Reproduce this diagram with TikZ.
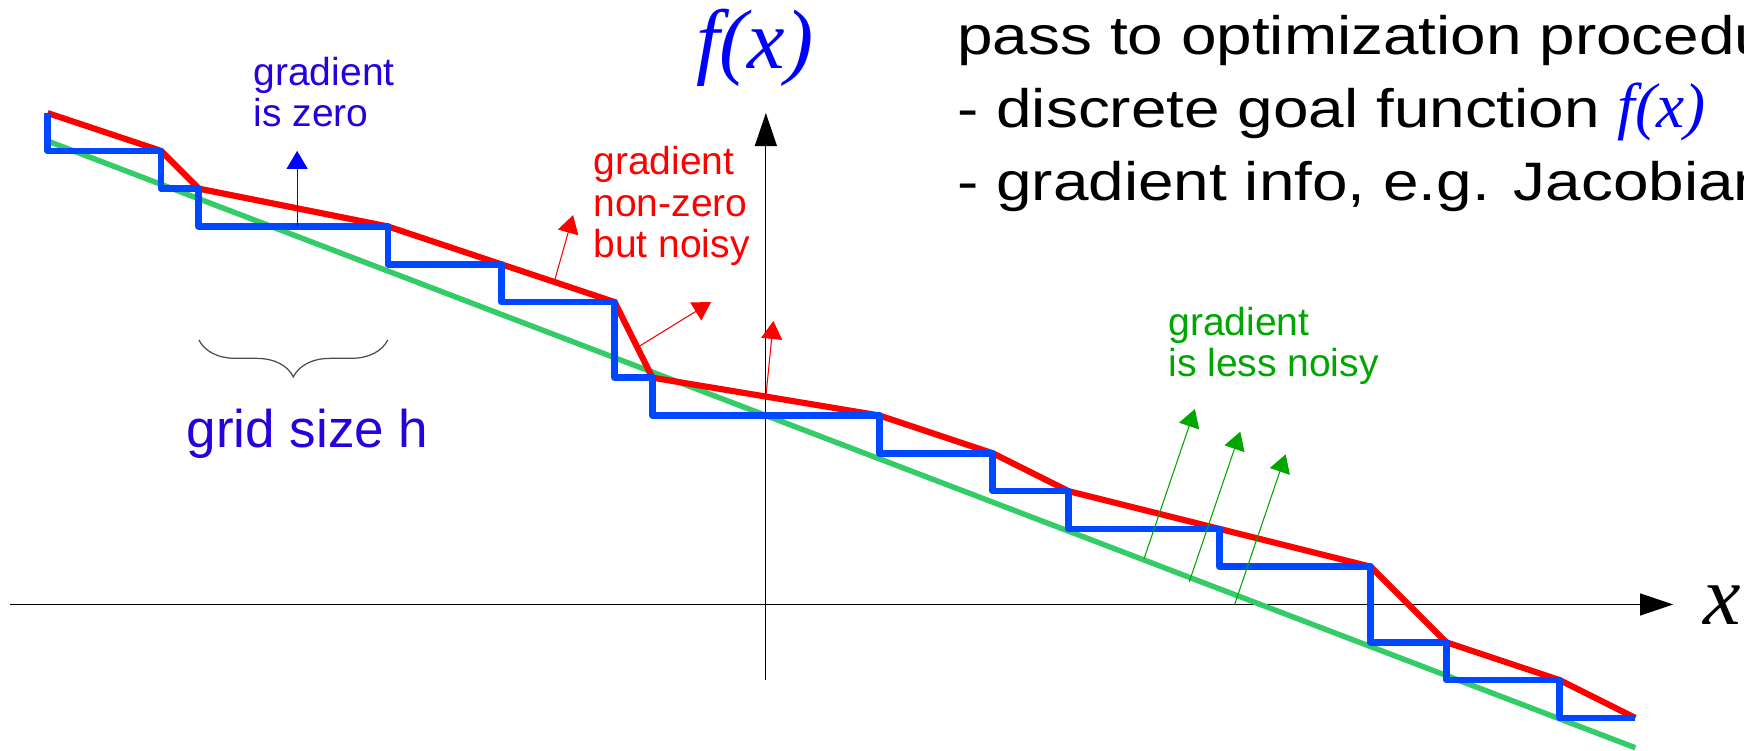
\documentclass[tikz,border=0pt]{standalone}
\usepackage{fontspec}
\setmainfont{Liberation Sans}
\newfontfamily\serifit{Liberation Serif}
\newfontfamily\widesans[FakeStretch=1.18]{Liberation Sans}
\usepackage{xcolor}
\usetikzlibrary{arrows.meta, decorations.pathreplacing}
\definecolor{stairblue}{RGB}{0,72,255}
\definecolor{noisyred}{RGB}{255,0,0}
\definecolor{trendgreen}{RGB}{51,204,102}
\definecolor{gradgreen}{RGB}{0,166,0}
\definecolor{labelblue}{RGB}{40,0,220}
\definecolor{fblue}{RGB}{0,0,255}
\tikzset{
  stairline/.style={line width=1.9pt, draw=stairblue, line join=round},
  noisyline/.style={line width=1.75pt, draw=noisyred},
  trendline/.style={line width=1.55pt, draw=trendgreen},
  axis/.style={line width=0.35pt, -{Triangle[length=0.33cm,width=0.22cm]}},
  gradarrow/.style={line width=0.3pt, -{Triangle[length=0.18cm,width=0.21cm]}},
  note/.style={font=\fontsize{11.1}{11.8}\selectfont, align=left,
               anchor=base west, inner sep=0pt},
  axislabel/.style={font=\serifit\itshape\fontsize{24}{28}\selectfont,
                    anchor=base, inner sep=0pt},
}

\begin{document}
\begin{tikzpicture}[x=0.378cm, y=0.378cm]
  \useasboundingbox (-20.26,-3.875) rectangle (25.875,15.99);
  % axes
  \draw[axis] (-20,0) -- (24,0);
  \draw[axis] (0,-2) -- (0,13);
  \node[axislabel] (xlab) at (25.29,-0.54) {x};
  \node[axislabel, text=fblue] (flab) at (-0.29,14.17) {f(x)};

  % smooth trend, noisy f(x) and its discrete steps
  \draw[trendline] (-19,12.26) -- (23,-3.79);
  \draw[noisyline] (-19,13) -- (-16,12) -- (-15,11) -- (-10,10) -- (-7,9) -- (-4,8)
    -- (-3,6) -- (3,5) -- (6,4) -- (8,3) -- (12,2) -- (16,1) -- (18,-1) -- (21,-2) -- (23,-3);
  \draw[stairline] (-19,13) |- (-16,12) |- (-15,11) |- (-10,10) |- (-7,9) |- (-4,8)
    |- (-3,6) |- (3,5) |- (6,4) |- (8,3) |- (12,2) |- (16,1) |- (18,-1) |- (21,-2) |- (23,-3);

  % grid size
  \draw[line width=0.35pt, black!70, decorate,
        decoration={brace, mirror, amplitude=0.37cm}] (-15,7) -- (-10,7);
  \node[note, font=\fontsize{15.1}{17}\selectfont, text=labelblue] (grid) at (-15.34,4.15) {grid size h};

  % gradients
  \draw[gradarrow, fblue] (-12.4,10) -- (-12.4,12);
  \node[note, text=labelblue] (zero) at (-13.57,12.64) {gradient\\is zero};

  \draw[gradarrow, noisyred] (-5.6,8.53) -- (-5.1,10.3);
  \draw[gradarrow, noisyred] (-3.4,6.8) -- (-1.45,8.0);
  \draw[gradarrow, noisyred] (0,5.5) -- (0.2,7.5);
  \node[note, text=noisyred] (noisy) at (-4.58,9.17) {gradient\\non-zero\\but noisy};

  \draw[gradarrow, gradgreen] (10,1.2) -- (11.35,5.17);
  \draw[gradarrow, gradgreen] (11.2,0.6) -- (12.55,4.57);
  \draw[gradarrow, gradgreen] (12.4,0) -- (13.75,3.97);
  \node[note, text=gradgreen] (less) at (10.63,6.02) {gradient\\is less noisy};

  % what is handed over
  \node[note, font=\widesans\fontsize{15.4}{20.8}\selectfont] (pass) at (5.05,10.68)
    {pass to optimization procedure\\
     - discrete goal function {\serifit\itshape\fontsize{18}{20}\selectfont\color{fblue}f(x)}\\
     - gradient info, e.g. Jacobian};
\end{tikzpicture}
\end{document}
